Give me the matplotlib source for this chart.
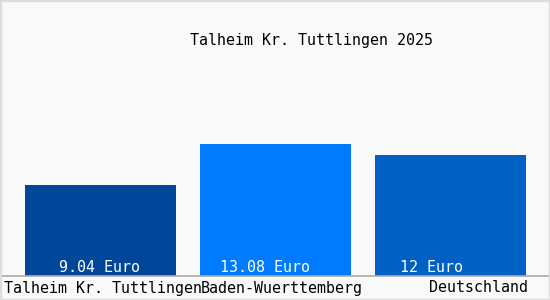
import matplotlib
matplotlib.use("Agg")
import matplotlib.pyplot as plt
from matplotlib.patches import Rectangle

title = "Talheim Kr. Tuttlingen 2025"
categories = ["Talheim Kr. Tuttlingen", "Baden-Wuerttemberg", "Deutschland"]
values = [9.04, 13.08, 12]
value_labels = ["9.04 Euro", "13.08 Euro", "12 Euro"]
colors = ["#00479a", "#007bfd", "#0060c3"]

# horizontal pixel offsets of the texts from the bar centres (layout only)
value_label_dx = [-1, -11, -19.5]
category_label_dx = [3, 6.5, 28]

FONT = "DejaVu Sans Mono"
FS = 10.8

fig = plt.figure(figsize=(5.5, 3.0), dpi=100)
fig.patch.set_facecolor("#f9f9f9")

ax = fig.add_axes([0, 24 / 300, 1, 276 / 300])
ax.set_facecolor("#f9f9f9")
x = list(range(len(categories)))
ax.bar(x, values, width=151 / 175, color=colors, zorder=2)
ax.set_xlim(-100.5 / 175, (550 - 100.5) / 175)
ax.set_ylim(0, 13.08 * 276 / 132)
for s in ["top", "left", "right"]:
    ax.spines[s].set_visible(False)
ax.spines["bottom"].set_color("#aaaaaa")
ax.spines["bottom"].set_linewidth(1.2)
ax.set_xticks([])
ax.set_yticks([])

for xi, lab, dx in zip(x, value_labels, value_label_dx):
    ax.annotate(lab, (xi, 0), xytext=(dx, 8), textcoords="offset pixels",
                ha="center", va="center", color="white", fontsize=FS, family=FONT)

for xi, cat, dx in zip(x, categories, category_label_dx):
    ax.annotate(cat, (xi, 0), xytext=(dx, -12), textcoords="offset pixels",
                ha="center", va="center", color="black", fontsize=FS, family=FONT,
                annotation_clip=False)

fig.text(311 / 550, 1 - 40 / 300, title, ha="center", va="center",
         fontsize=FS, family=FONT, color="black")

fig.patches.append(Rectangle((0, 0), 1, 1, transform=fig.transFigure,
                             fill=False, edgecolor="#dddddd", linewidth=2.5))

fig.savefig("out.png", dpi=100, facecolor=fig.get_facecolor())
